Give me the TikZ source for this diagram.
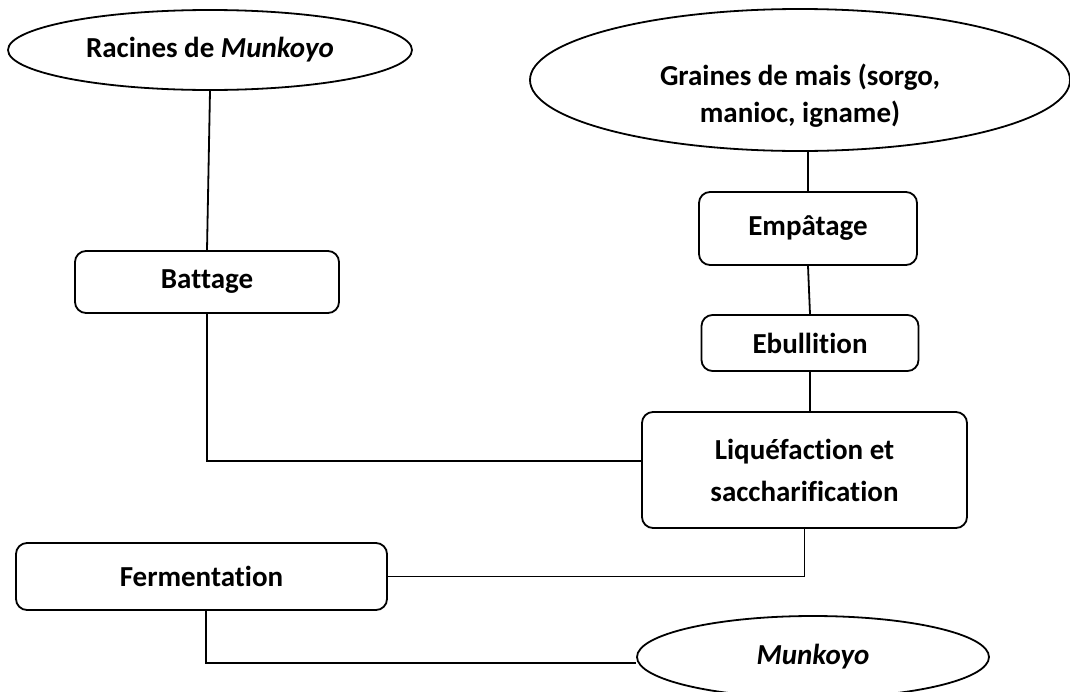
\documentclass[tikz,border=0pt]{standalone}
\usepackage{fontspec}
\setmainfont{Carlito}[Ligatures={NoCommon}]
\usetikzlibrary{shapes.geometric}
\begin{document}
\begin{tikzpicture}[x=1pt,y=-1pt,
  every node/.style={font=\fontsize{29}{37}\selectfont\bfseries, align=center, inner sep=0pt},
  ell/.style={ellipse, draw, line width=1.8pt},
  box/.style={rectangle, draw, rounded corners=11pt, line width=1.8pt},
  link/.style={draw, line width=1.8pt}]
\useasboundingbox (0,0) rectangle (1070,691);
\node[ell, minimum width=404pt, minimum height=80pt] (rac) at (210,50) {Racines de \textit{Munkoyo}};
\node[ell, minimum width=540pt, minimum height=142pt] (gr) at (800,80) {};
\node (grt) at (800,96) {Graines de mais (sorgo,\\ manioc, igname)};
\node[box, minimum width=264pt, minimum height=62pt] (bat) at (207,282) {Battage};
\node[box, minimum width=218pt, minimum height=73pt] (emp) at (808,228.5) {Empâtage};
\node[box, minimum width=217pt, minimum height=56pt] (ebu) at (810,343) {Ebullition};
\node[box, minimum width=325pt, minimum height=116pt, font=\fontsize{29}{42}\selectfont\bfseries] (liq) at (804.5,470) {Liquéfaction et\\ saccharification};
\node[box, minimum width=371pt, minimum height=67pt] (fer) at (201.5,576.5) {Fermentation};
\node[ell, minimum width=352pt, minimum height=82pt] (mun) at (813,657) {\textit{Munkoyo}};
\coordinate (j1) at (207,461);
\coordinate (j2) at (206,663);
\draw[link] (rac.south) -- (bat.north);
\draw[link] (bat.south) -- (j1) -- (j1 -| liq.west);
\draw[link] (emp.north) -- (emp.north |- gr.south);
\draw[link] (emp.south) -- (ebu.north);
\draw[link] (ebu.south) -- (ebu.south |- liq.north);
\draw[link] (liq.south) |- (fer.east);
\draw[link] (j2 |- fer.south) -- (j2) -- (j2 -| mun.west);
\end{tikzpicture}
\end{document}
